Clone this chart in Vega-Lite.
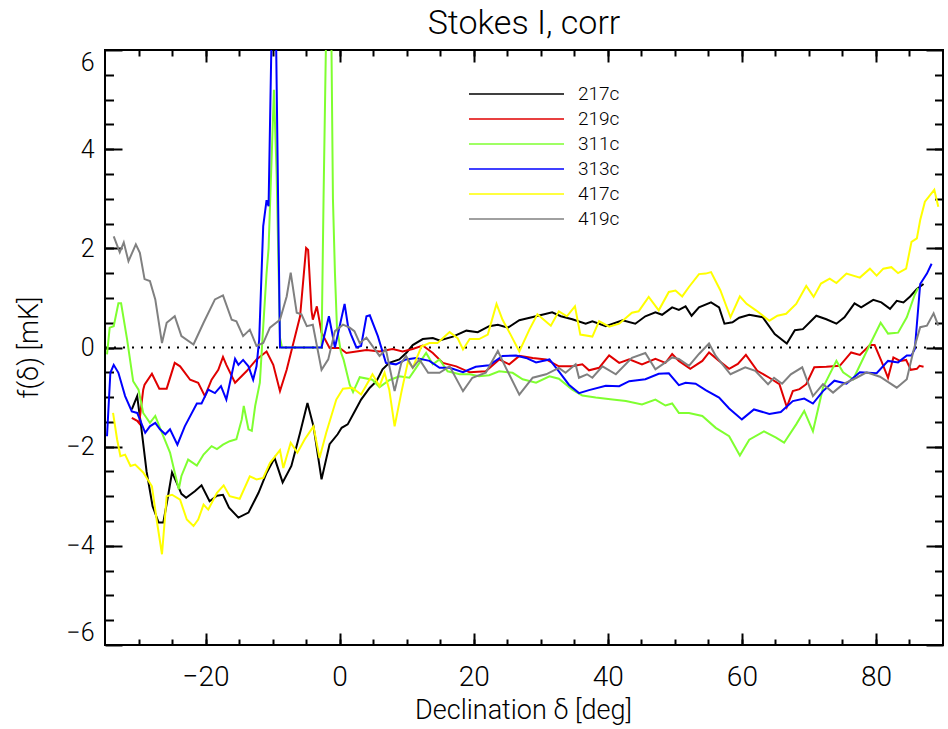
{
  "$schema": "https://vega.github.io/schema/vega-lite/v6.json",
  "width": 838,
  "height": 595,
  "autosize": {"type": "none"},
  "padding": {"left": 105, "top": 50, "right": 5, "bottom": 84},
  "background": "white",
  "title": {"text": "Stokes I, corr", "fontSize": 34, "font": "Roboto", "fontWeight": 300, "color": "black", "offset": -19, "baseline": "alphabetic", "anchor": "middle"},
  "datasets": {
    "curves": [
      {"s":"217c","d":-31.0,"f":-1.25},{"s":"217c","d":-30.2,"f":-0.98},{"s":"217c","d":-29.6,"f":-1.6},{"s":"217c","d":-28.8,"f":-2.5},{"s":"217c","d":-27.9,"f":-3.2},{"s":"217c","d":-27.0,"f":-3.53},{"s":"217c","d":-26.3,"f":-3.53},{"s":"217c","d":-25.6,"f":-3.0},{"s":"217c","d":-25.0,"f":-2.52},{"s":"217c","d":-24.3,"f":-2.73},{"s":"217c","d":-23.6,"f":-2.95},{"s":"217c","d":-22.9,"f":-3.03},{"s":"217c","d":-21.6,"f":-2.9},{"s":"217c","d":-20.6,"f":-2.78},{"s":"217c","d":-19.4,"f":-3.1},{"s":"217c","d":-18.3,"f":-2.99},{"s":"217c","d":-17.4,"f":-2.97},{"s":"217c","d":-16.5,"f":-3.23},{"s":"217c","d":-15.1,"f":-3.43},{"s":"217c","d":-13.6,"f":-3.33},{"s":"217c","d":-12.1,"f":-2.93},{"s":"217c","d":-10.9,"f":-2.53},{"s":"217c","d":-9.7,"f":-2.23},{"s":"217c","d":-8.5,"f":-2.72},{"s":"217c","d":-7.2,"f":-2.39},{"s":"217c","d":-5.9,"f":-1.72},{"s":"217c","d":-4.8,"f":-1.12},{"s":"217c","d":-3.9,"f":-1.59},{"s":"217c","d":-2.7,"f":-2.66},{"s":"217c","d":-1.5,"f":-1.95},{"s":"217c","d":-0.3,"f":-1.75},{"s":"217c","d":0.3,"f":-1.62},{"s":"217c","d":1.2,"f":-1.55},{"s":"217c","d":2.2,"f":-1.3},{"s":"217c","d":3.2,"f":-1.05},{"s":"217c","d":4.5,"f":-0.81},{"s":"217c","d":5.5,"f":-0.68},{"s":"217c","d":6.4,"f":-0.44},{"s":"217c","d":7.4,"f":-0.31},{"s":"217c","d":8.9,"f":-0.24},{"s":"217c","d":10.0,"f":-0.1},{"s":"217c","d":10.9,"f":0.05},{"s":"217c","d":12.4,"f":0.17},{"s":"217c","d":13.9,"f":0.19},{"s":"217c","d":14.9,"f":0.14},{"s":"217c","d":16.9,"f":0.22},{"s":"217c","d":18.9,"f":0.34},{"s":"217c","d":20.6,"f":0.31},{"s":"217c","d":22.3,"f":0.43},{"s":"217c","d":23.6,"f":0.46},{"s":"217c","d":25.1,"f":0.4},{"s":"217c","d":26.8,"f":0.55},{"s":"217c","d":29.3,"f":0.63},{"s":"217c","d":31.7,"f":0.71},{"s":"217c","d":33.0,"f":0.63},{"s":"217c","d":34.7,"f":0.57},{"s":"217c","d":36.7,"f":0.48},{"s":"217c","d":37.7,"f":0.53},{"s":"217c","d":39.7,"f":0.43},{"s":"217c","d":42.2,"f":0.55},{"s":"217c","d":44.1,"f":0.48},{"s":"217c","d":45.6,"f":0.63},{"s":"217c","d":47.1,"f":0.71},{"s":"217c","d":48.1,"f":0.66},{"s":"217c","d":49.6,"f":0.81},{"s":"217c","d":50.6,"f":0.76},{"s":"217c","d":51.6,"f":0.83},{"s":"217c","d":52.5,"f":0.64},{"s":"217c","d":53.6,"f":0.81},{"s":"217c","d":55.4,"f":0.91},{"s":"217c","d":56.6,"f":0.81},{"s":"217c","d":57.4,"f":0.48},{"s":"217c","d":58.6,"f":0.51},{"s":"217c","d":59.6,"f":0.6},{"s":"217c","d":61.1,"f":0.66},{"s":"217c","d":63.1,"f":0.61},{"s":"217c","d":64.9,"f":0.27},{"s":"217c","d":66.7,"f":0.08},{"s":"217c","d":67.9,"f":0.35},{"s":"217c","d":69.1,"f":0.37},{"s":"217c","d":71.1,"f":0.64},{"s":"217c","d":72.6,"f":0.57},{"s":"217c","d":74.1,"f":0.48},{"s":"217c","d":75.3,"f":0.61},{"s":"217c","d":76.8,"f":0.89},{"s":"217c","d":77.8,"f":0.81},{"s":"217c","d":79.6,"f":0.96},{"s":"217c","d":80.8,"f":0.91},{"s":"217c","d":82.1,"f":0.78},{"s":"217c","d":83.1,"f":0.94},{"s":"217c","d":84.1,"f":0.91},{"s":"217c","d":85.1,"f":1.03},{"s":"217c","d":86.1,"f":1.18},{"s":"217c","d":87.1,"f":1.28},
      {"s":"219c","d":-31.0,"f":-1.42},{"s":"219c","d":-30.2,"f":-1.48},{"s":"219c","d":-29.9,"f":-1.53},{"s":"219c","d":-29.3,"f":-0.85},{"s":"219c","d":-29.1,"f":-0.75},{"s":"219c","d":-28.0,"f":-0.53},{"s":"219c","d":-26.9,"f":-0.83},{"s":"219c","d":-25.8,"f":-0.83},{"s":"219c","d":-24.6,"f":-0.31},{"s":"219c","d":-23.8,"f":-0.38},{"s":"219c","d":-22.3,"f":-0.65},{"s":"219c","d":-21.1,"f":-0.71},{"s":"219c","d":-20.1,"f":-0.98},{"s":"219c","d":-19.1,"f":-0.65},{"s":"219c","d":-18.1,"f":-0.45},{"s":"219c","d":-17.4,"f":-0.19},{"s":"219c","d":-16.9,"f":-0.35},{"s":"219c","d":-15.6,"f":-0.71},{"s":"219c","d":-13.9,"f":-0.48},{"s":"219c","d":-12.4,"f":-0.24},{"s":"219c","d":-10.9,"f":-0.08},{"s":"219c","d":-9.9,"f":-0.35},{"s":"219c","d":-8.9,"f":-0.88},{"s":"219c","d":-7.9,"f":-0.45},{"s":"219c","d":-6.9,"f":0.09},{"s":"219c","d":-5.9,"f":0.63},{"s":"219c","d":-5.0,"f":2.01},{"s":"219c","d":-4.7,"f":1.97},{"s":"219c","d":-4.2,"f":0.75},{"s":"219c","d":-4.0,"f":0.56},{"s":"219c","d":-3.4,"f":0.83},{"s":"219c","d":-2.7,"f":0.3},{"s":"219c","d":-1.5,"f":-0.01},{"s":"219c","d":0.0,"f":-0.01},{"s":"219c","d":1.0,"f":-0.11},{"s":"219c","d":2.5,"f":-0.08},{"s":"219c","d":4.0,"f":-0.05},{"s":"219c","d":5.95,"f":-0.08},{"s":"219c","d":7.9,"f":-0.03},{"s":"219c","d":9.4,"f":-0.08},{"s":"219c","d":10.9,"f":-0.03},{"s":"219c","d":12.4,"f":0.04},{"s":"219c","d":13.9,"f":-0.11},{"s":"219c","d":15.4,"f":-0.31},{"s":"219c","d":17.4,"f":-0.38},{"s":"219c","d":19.4,"f":-0.5},{"s":"219c","d":21.8,"f":-0.48},{"s":"219c","d":23.8,"f":-0.24},{"s":"219c","d":25.3,"f":-0.34},{"s":"219c","d":26.8,"f":-0.17},{"s":"219c","d":28.8,"f":-0.21},{"s":"219c","d":30.8,"f":-0.24},{"s":"219c","d":32.7,"f":-0.38},{"s":"219c","d":34.7,"f":-0.38},{"s":"219c","d":36.2,"f":-0.34},{"s":"219c","d":37.2,"f":-0.46},{"s":"219c","d":38.7,"f":-0.41},{"s":"219c","d":40.2,"f":-0.16},{"s":"219c","d":41.7,"f":-0.31},{"s":"219c","d":43.2,"f":-0.24},{"s":"219c","d":45.1,"f":-0.34},{"s":"219c","d":47.1,"f":-0.23},{"s":"219c","d":48.6,"f":-0.31},{"s":"219c","d":49.6,"f":-0.13},{"s":"219c","d":50.6,"f":-0.27},{"s":"219c","d":52.3,"f":-0.43},{"s":"219c","d":54.1,"f":-0.27},{"s":"219c","d":55.1,"f":-0.1},{"s":"219c","d":56.6,"f":-0.27},{"s":"219c","d":58.1,"f":-0.43},{"s":"219c","d":59.4,"f":-0.33},{"s":"219c","d":60.6,"f":-0.15},{"s":"219c","d":62.3,"f":-0.47},{"s":"219c","d":64.1,"f":-0.61},{"s":"219c","d":65.6,"f":-0.74},{"s":"219c","d":66.7,"f":-1.2},{"s":"219c","d":67.6,"f":-0.88},{"s":"219c","d":68.6,"f":-0.84},{"s":"219c","d":69.6,"f":-0.74},{"s":"219c","d":70.8,"f":-0.4},{"s":"219c","d":72.6,"f":-0.39},{"s":"219c","d":74.6,"f":-0.37},{"s":"219c","d":76.3,"f":-0.1},{"s":"219c","d":77.6,"f":-0.15},{"s":"219c","d":79.1,"f":0.05},{"s":"219c","d":79.8,"f":0.05},{"s":"219c","d":80.8,"f":-0.27},{"s":"219c","d":81.8,"f":-0.61},{"s":"219c","d":82.6,"f":-0.2},{"s":"219c","d":83.6,"f":-0.27},{"s":"219c","d":84.5,"f":-0.25},{"s":"219c","d":85.2,"f":-0.45},{"s":"219c","d":86.1,"f":-0.43},{"s":"219c","d":86.5,"f":-0.37},{"s":"219c","d":87.1,"f":-0.39},
      {"s":"311c","d":-34.7,"f":-0.14},{"s":"311c","d":-34.3,"f":0.4},{"s":"311c","d":-33.7,"f":0.43},{"s":"311c","d":-33.0,"f":0.89},{"s":"311c","d":-32.6,"f":0.89},{"s":"311c","d":-31.7,"f":0.16},{"s":"311c","d":-30.8,"f":-0.68},{"s":"311c","d":-30.0,"f":-0.85},{"s":"311c","d":-29.3,"f":-1.32},{"s":"311c","d":-28.3,"f":-1.52},{"s":"311c","d":-27.5,"f":-1.38},{"s":"311c","d":-26.5,"f":-1.72},{"s":"311c","d":-25.3,"f":-2.12},{"s":"311c","d":-24.6,"f":-2.52},{"s":"311c","d":-24.0,"f":-2.86},{"s":"311c","d":-23.6,"f":-2.59},{"s":"311c","d":-22.6,"f":-2.26},{"s":"311c","d":-21.3,"f":-2.38},{"s":"311c","d":-20.3,"f":-2.16},{"s":"311c","d":-19.1,"f":-1.99},{"s":"311c","d":-18.3,"f":-2.05},{"s":"311c","d":-17.4,"f":-1.96},{"s":"311c","d":-16.4,"f":-1.89},{"s":"311c","d":-15.4,"f":-1.85},{"s":"311c","d":-14.6,"f":-1.45},{"s":"311c","d":-14.3,"f":-1.18},{"s":"311c","d":-13.6,"f":-1.65},{"s":"311c","d":-13.1,"f":-1.68},{"s":"311c","d":-12.6,"f":-1.18},{"s":"311c","d":-11.9,"f":-0.71},{"s":"311c","d":-11.5,"f":0.2},{"s":"311c","d":-10.9,"f":1.5},{"s":"311c","d":-10.6,"f":2.0},{"s":"311c","d":-9.8,"f":5.2},{"s":"311c","d":-9.4,"f":3.5},{"s":"311c","d":-8.9,"f":0.2},{"s":"311c","d":-8.6,"f":0.0},{"s":"311c","d":-2.7,"f":0.0},{"s":"311c","d":-2.4,"f":3.0},{"s":"311c","d":-2.0,"f":6.5},{"s":"311c","d":-1.6,"f":9.0},{"s":"311c","d":-1.25,"f":6.5},{"s":"311c","d":-1.0,"f":3.0},{"s":"311c","d":-0.7,"f":1.5},{"s":"311c","d":-0.4,"f":0.4},{"s":"311c","d":0.2,"f":-0.1},{"s":"311c","d":0.6,"f":-0.25},{"s":"311c","d":1.5,"f":-0.75},{"s":"311c","d":2.0,"f":-0.9},{"s":"311c","d":3.0,"f":-0.6},{"s":"311c","d":4.9,"f":-0.65},{"s":"311c","d":5.95,"f":-0.8},{"s":"311c","d":7.4,"f":-0.66},{"s":"311c","d":8.9,"f":-0.58},{"s":"311c","d":10.4,"f":-0.61},{"s":"311c","d":11.4,"f":-0.41},{"s":"311c","d":12.9,"f":-0.11},{"s":"311c","d":13.9,"f":-0.34},{"s":"311c","d":14.9,"f":-0.24},{"s":"311c","d":16.1,"f":-0.48},{"s":"311c","d":17.9,"f":-0.54},{"s":"311c","d":19.4,"f":-0.54},{"s":"311c","d":20.8,"f":-0.58},{"s":"311c","d":22.3,"f":-0.56},{"s":"311c","d":23.8,"f":-0.48},{"s":"311c","d":25.8,"f":-0.51},{"s":"311c","d":27.3,"f":-0.64},{"s":"311c","d":29.3,"f":-0.71},{"s":"311c","d":31.3,"f":-0.58},{"s":"311c","d":32.7,"f":-0.63},{"s":"311c","d":34.7,"f":-0.85},{"s":"311c","d":36.2,"f":-0.97},{"s":"311c","d":38.2,"f":-1.01},{"s":"311c","d":40.7,"f":-1.05},{"s":"311c","d":42.7,"f":-1.08},{"s":"311c","d":45.1,"f":-1.15},{"s":"311c","d":47.1,"f":-1.05},{"s":"311c","d":48.6,"f":-1.17},{"s":"311c","d":49.6,"f":-1.13},{"s":"311c","d":50.6,"f":-1.32},{"s":"311c","d":52.1,"f":-1.32},{"s":"311c","d":54.1,"f":-1.38},{"s":"311c","d":56.1,"f":-1.62},{"s":"311c","d":58.1,"f":-1.79},{"s":"311c","d":59.7,"f":-2.18},{"s":"311c","d":61.1,"f":-1.86},{"s":"311c","d":63.3,"f":-1.69},{"s":"311c","d":65.1,"f":-1.82},{"s":"311c","d":66.3,"f":-1.92},{"s":"311c","d":68.1,"f":-1.55},{"s":"311c","d":69.3,"f":-1.28},{"s":"311c","d":70.6,"f":-1.69},{"s":"311c","d":72.1,"f":-0.81},{"s":"311c","d":74.1,"f":-0.27},{"s":"311c","d":75.1,"f":-0.5},{"s":"311c","d":76.6,"f":-0.64},{"s":"311c","d":79.1,"f":0.06},{"s":"311c","d":80.7,"f":0.5},{"s":"311c","d":81.8,"f":0.28},{"s":"311c","d":83.3,"f":0.3},{"s":"311c","d":84.6,"f":0.61},{"s":"311c","d":85.8,"f":1.07},{"s":"311c","d":86.3,"f":1.2},
      {"s":"313c","d":-34.7,"f":-1.79},{"s":"313c","d":-34.2,"f":-0.51},{"s":"313c","d":-33.7,"f":-0.35},{"s":"313c","d":-33.0,"f":-0.51},{"s":"313c","d":-32.0,"f":-0.98},{"s":"313c","d":-31.0,"f":-1.29},{"s":"313c","d":-30.2,"f":-1.32},{"s":"313c","d":-29.8,"f":-1.45},{"s":"313c","d":-29.0,"f":-1.72},{"s":"313c","d":-28.3,"f":-1.59},{"s":"313c","d":-27.5,"f":-1.52},{"s":"313c","d":-26.8,"f":-1.65},{"s":"313c","d":-26.0,"f":-1.75},{"s":"313c","d":-25.3,"f":-1.65},{"s":"313c","d":-24.2,"f":-1.96},{"s":"313c","d":-23.1,"f":-1.59},{"s":"313c","d":-21.3,"f":-1.13},{"s":"313c","d":-20.6,"f":-1.13},{"s":"313c","d":-19.6,"f":-0.85},{"s":"313c","d":-18.6,"f":-0.92},{"s":"313c","d":-17.7,"f":-0.78},{"s":"313c","d":-16.9,"f":-1.05},{"s":"313c","d":-15.6,"f":-0.23},{"s":"313c","d":-15.1,"f":-0.35},{"s":"313c","d":-14.4,"f":-0.25},{"s":"313c","d":-13.6,"f":-0.38},{"s":"313c","d":-12.9,"f":-0.65},{"s":"313c","d":-12.4,"f":-0.38},{"s":"313c","d":-12.0,"f":0.16},{"s":"313c","d":-11.4,"f":2.45},{"s":"313c","d":-10.9,"f":2.97},{"s":"313c","d":-10.6,"f":2.85},{"s":"313c","d":-10.0,"f":7.5},{"s":"313c","d":-9.6,"f":7.5},{"s":"313c","d":-8.9,"f":0.0},{"s":"313c","d":-2.7,"f":0.0},{"s":"313c","d":-1.6,"f":0.63},{"s":"313c","d":-0.7,"f":0.0},{"s":"313c","d":0.74,"f":0.88},{"s":"313c","d":1.25,"f":0.43},{"s":"313c","d":1.7,"f":0.26},{"s":"313c","d":2.5,"f":0.0},{"s":"313c","d":3.2,"f":0.03},{"s":"313c","d":4.0,"f":0.63},{"s":"313c","d":4.5,"f":0.65},{"s":"313c","d":5.7,"f":0.23},{"s":"313c","d":6.9,"f":-0.31},{"s":"313c","d":8.4,"f":-0.34},{"s":"313c","d":9.9,"f":-0.24},{"s":"313c","d":11.4,"f":-0.21},{"s":"313c","d":13.4,"f":-0.27},{"s":"313c","d":14.9,"f":-0.41},{"s":"313c","d":16.4,"f":-0.41},{"s":"313c","d":18.4,"f":-0.5},{"s":"313c","d":20.3,"f":-0.39},{"s":"313c","d":22.3,"f":-0.36},{"s":"313c","d":24.3,"f":-0.17},{"s":"313c","d":26.3,"f":-0.16},{"s":"313c","d":27.8,"f":-0.21},{"s":"313c","d":29.3,"f":-0.3},{"s":"313c","d":31.3,"f":-0.24},{"s":"313c","d":32.7,"f":-0.48},{"s":"313c","d":34.2,"f":-0.75},{"s":"313c","d":35.7,"f":-0.92},{"s":"313c","d":37.2,"f":-0.86},{"s":"313c","d":39.7,"f":-0.77},{"s":"313c","d":41.7,"f":-0.78},{"s":"313c","d":43.2,"f":-0.68},{"s":"313c","d":45.6,"f":-0.64},{"s":"313c","d":47.6,"f":-0.53},{"s":"313c","d":49.1,"f":-0.52},{"s":"313c","d":50.6,"f":-0.76},{"s":"313c","d":51.6,"f":-0.71},{"s":"313c","d":53.1,"f":-0.73},{"s":"313c","d":54.6,"f":-0.86},{"s":"313c","d":56.6,"f":-1.01},{"s":"313c","d":58.1,"f":-1.23},{"s":"313c","d":60.0,"f":-1.45},{"s":"313c","d":61.8,"f":-1.25},{"s":"313c","d":64.1,"f":-1.34},{"s":"313c","d":65.8,"f":-1.3},{"s":"313c","d":67.6,"f":-1.08},{"s":"313c","d":69.3,"f":-1.03},{"s":"313c","d":70.6,"f":-1.13},{"s":"313c","d":72.1,"f":-0.88},{"s":"313c","d":73.8,"f":-0.67},{"s":"313c","d":75.6,"f":-0.73},{"s":"313c","d":77.6,"f":-0.5},{"s":"313c","d":80.1,"f":-0.52},{"s":"313c","d":81.8,"f":-0.27},{"s":"313c","d":83.3,"f":-0.3},{"s":"313c","d":84.6,"f":-0.16},{"s":"313c","d":85.3,"f":-0.16},{"s":"313c","d":85.8,"f":-0.03},{"s":"313c","d":86.6,"f":1.28},{"s":"313c","d":87.6,"f":1.49},{"s":"313c","d":88.3,"f":1.69},
      {"s":"417c","d":-33.8,"f":-1.32},{"s":"417c","d":-33.2,"f":-1.85},{"s":"417c","d":-32.7,"f":-2.19},{"s":"417c","d":-32.0,"f":-2.16},{"s":"417c","d":-31.2,"f":-2.39},{"s":"417c","d":-30.5,"f":-2.36},{"s":"417c","d":-29.3,"f":-2.52},{"s":"417c","d":-28.0,"f":-2.8},{"s":"417c","d":-27.3,"f":-3.47},{"s":"417c","d":-26.5,"f":-4.17},{"s":"417c","d":-25.8,"f":-3.0},{"s":"417c","d":-25.0,"f":-2.97},{"s":"417c","d":-23.8,"f":-3.07},{"s":"417c","d":-22.8,"f":-3.47},{"s":"417c","d":-21.8,"f":-3.6},{"s":"417c","d":-21.1,"f":-3.47},{"s":"417c","d":-20.3,"f":-3.17},{"s":"417c","d":-19.6,"f":-3.27},{"s":"417c","d":-18.3,"f":-2.93},{"s":"417c","d":-17.3,"f":-2.78},{"s":"417c","d":-16.4,"f":-3.0},{"s":"417c","d":-14.9,"f":-3.05},{"s":"417c","d":-13.4,"f":-2.6},{"s":"417c","d":-12.4,"f":-2.66},{"s":"417c","d":-11.4,"f":-2.63},{"s":"417c","d":-10.4,"f":-2.33},{"s":"417c","d":-8.9,"f":-2.07},{"s":"417c","d":-8.4,"f":-2.43},{"s":"417c","d":-7.3,"f":-1.92},{"s":"417c","d":-6.3,"f":-2.12},{"s":"417c","d":-5.2,"f":-1.85},{"s":"417c","d":-3.9,"f":-1.59},{"s":"417c","d":-3.0,"f":-2.23},{"s":"417c","d":-2.0,"f":-1.72},{"s":"417c","d":-0.5,"f":-1.05},{"s":"417c","d":0.5,"f":-0.83},{"s":"417c","d":1.9,"f":-0.81},{"s":"417c","d":3.2,"f":-0.95},{"s":"417c","d":4.9,"f":-0.54},{"s":"417c","d":5.95,"f":-0.78},{"s":"417c","d":6.7,"f":-0.51},{"s":"417c","d":7.4,"f":-0.85},{"s":"417c","d":8.2,"f":-1.59},{"s":"417c","d":9.2,"f":-0.91},{"s":"417c","d":10.2,"f":-0.28},{"s":"417c","d":10.9,"f":-0.41},{"s":"417c","d":12.2,"f":0.02},{"s":"417c","d":13.4,"f":0.09},{"s":"417c","d":14.6,"f":0.09},{"s":"417c","d":16.4,"f":0.31},{"s":"417c","d":17.6,"f":0.19},{"s":"417c","d":18.4,"f":-0.04},{"s":"417c","d":19.4,"f":0.17},{"s":"417c","d":20.8,"f":0.17},{"s":"417c","d":22.1,"f":0.26},{"s":"417c","d":23.4,"f":0.88},{"s":"417c","d":24.3,"f":0.56},{"s":"417c","d":25.5,"f":0.26},{"s":"417c","d":26.8,"f":-0.08},{"s":"417c","d":28.3,"f":0.36},{"s":"417c","d":29.5,"f":0.67},{"s":"417c","d":31.5,"f":0.44},{"s":"417c","d":32.7,"f":0.73},{"s":"417c","d":33.9,"f":0.63},{"s":"417c","d":35.1,"f":0.83},{"s":"417c","d":35.9,"f":0.26},{"s":"417c","d":37.7,"f":0.22},{"s":"417c","d":38.7,"f":0.53},{"s":"417c","d":40.2,"f":0.42},{"s":"417c","d":41.7,"f":0.48},{"s":"417c","d":43.6,"f":0.7},{"s":"417c","d":44.6,"f":0.73},{"s":"417c","d":46.1,"f":1.02},{"s":"417c","d":47.6,"f":0.75},{"s":"417c","d":49.1,"f":1.12},{"s":"417c","d":50.1,"f":1.15},{"s":"417c","d":51.1,"f":1.03},{"s":"417c","d":52.1,"f":1.22},{"s":"417c","d":53.6,"f":1.48},{"s":"417c","d":54.6,"f":1.49},{"s":"417c","d":55.4,"f":1.52},{"s":"417c","d":56.8,"f":1.15},{"s":"417c","d":58.3,"f":0.61},{"s":"417c","d":59.7,"f":1.03},{"s":"417c","d":60.7,"f":0.88},{"s":"417c","d":62.1,"f":0.75},{"s":"417c","d":64.1,"f":0.54},{"s":"417c","d":65.3,"f":0.64},{"s":"417c","d":66.6,"f":0.68},{"s":"417c","d":68.1,"f":0.88},{"s":"417c","d":69.6,"f":1.24},{"s":"417c","d":70.7,"f":1.02},{"s":"417c","d":71.8,"f":1.29},{"s":"417c","d":73.1,"f":1.39},{"s":"417c","d":74.1,"f":1.3},{"s":"417c","d":75.6,"f":1.49},{"s":"417c","d":77.6,"f":1.41},{"s":"417c","d":79.1,"f":1.59},{"s":"417c","d":80.1,"f":1.45},{"s":"417c","d":81.1,"f":1.59},{"s":"417c","d":82.3,"f":1.62},{"s":"417c","d":83.3,"f":1.5},{"s":"417c","d":84.5,"f":1.59},{"s":"417c","d":85.3,"f":2.13},{"s":"417c","d":86.1,"f":2.2},{"s":"417c","d":86.6,"f":2.57},{"s":"417c","d":87.3,"f":2.94},{"s":"417c","d":88.1,"f":3.08},{"s":"417c","d":88.7,"f":3.18},{"s":"417c","d":89.3,"f":2.84},
      {"s":"419c","d":-33.7,"f":2.24},{"s":"419c","d":-32.8,"f":1.92},{"s":"419c","d":-32.2,"f":2.12},{"s":"419c","d":-31.5,"f":1.74},{"s":"419c","d":-30.4,"f":2.08},{"s":"419c","d":-29.8,"f":1.91},{"s":"419c","d":-29.1,"f":1.38},{"s":"419c","d":-28.3,"f":1.34},{"s":"419c","d":-27.5,"f":0.97},{"s":"419c","d":-26.5,"f":0.09},{"s":"419c","d":-25.8,"f":0.5},{"s":"419c","d":-24.6,"f":0.63},{"s":"419c","d":-23.6,"f":0.23},{"s":"419c","d":-21.8,"f":0.06},{"s":"419c","d":-20.3,"f":0.5},{"s":"419c","d":-18.6,"f":0.97},{"s":"419c","d":-17.4,"f":1.05},{"s":"419c","d":-16.1,"f":0.56},{"s":"419c","d":-15.4,"f":0.53},{"s":"419c","d":-14.4,"f":0.23},{"s":"419c","d":-13.4,"f":0.36},{"s":"419c","d":-12.4,"f":0.03},{"s":"419c","d":-11.4,"f":0.09},{"s":"419c","d":-10.4,"f":0.4},{"s":"419c","d":-8.9,"f":0.56},{"s":"419c","d":-7.9,"f":1.03},{"s":"419c","d":-7.3,"f":1.51},{"s":"419c","d":-6.4,"f":0.7},{"s":"419c","d":-5.7,"f":0.67},{"s":"419c","d":-4.9,"f":0.43},{"s":"419c","d":-4.0,"f":0.46},{"s":"419c","d":-2.7,"f":-0.45},{"s":"419c","d":-1.7,"f":-0.24},{"s":"419c","d":-0.7,"f":0.33},{"s":"419c","d":0.5,"f":0.46},{"s":"419c","d":1.5,"f":0.4},{"s":"419c","d":2.2,"f":0.33},{"s":"419c","d":3.0,"f":0.09},{"s":"419c","d":4.0,"f":0.2},{"s":"419c","d":5.95,"f":-0.17},{"s":"419c","d":6.9,"f":-0.04},{"s":"419c","d":8.2,"f":-0.88},{"s":"419c","d":9.2,"f":-0.31},{"s":"419c","d":9.9,"f":-0.17},{"s":"419c","d":10.9,"f":-0.41},{"s":"419c","d":11.9,"f":-0.24},{"s":"419c","d":13.2,"f":-0.51},{"s":"419c","d":14.9,"f":-0.51},{"s":"419c","d":16.4,"f":-0.38},{"s":"419c","d":18.4,"f":-0.88},{"s":"419c","d":19.8,"f":-0.61},{"s":"419c","d":21.8,"f":-0.51},{"s":"419c","d":23.6,"f":-0.07},{"s":"419c","d":24.8,"f":-0.41},{"s":"419c","d":26.8,"f":-0.95},{"s":"419c","d":28.8,"f":-0.61},{"s":"419c","d":30.8,"f":-0.54},{"s":"419c","d":32.7,"f":-0.41},{"s":"419c","d":33.7,"f":-0.51},{"s":"419c","d":35.2,"f":-0.34},{"s":"419c","d":35.7,"f":-0.61},{"s":"419c","d":36.9,"f":-0.54},{"s":"419c","d":37.7,"f":-0.61},{"s":"419c","d":39.2,"f":-0.38},{"s":"419c","d":41.2,"f":-0.54},{"s":"419c","d":43.6,"f":-0.21},{"s":"419c","d":45.6,"f":-0.11},{"s":"419c","d":47.1,"f":-0.44},{"s":"419c","d":48.6,"f":-0.3},{"s":"419c","d":49.6,"f":-0.2},{"s":"419c","d":50.6,"f":-0.23},{"s":"419c","d":52.1,"f":-0.37},{"s":"419c","d":53.6,"f":-0.13},{"s":"419c","d":55.1,"f":0.08},{"s":"419c","d":56.1,"f":-0.17},{"s":"419c","d":58.3,"f":-0.54},{"s":"419c","d":60.5,"f":-0.4},{"s":"419c","d":62.0,"f":-0.47},{"s":"419c","d":63.9,"f":-0.74},{"s":"419c","d":64.8,"f":-0.61},{"s":"419c","d":66.0,"f":-0.73},{"s":"419c","d":67.3,"f":-0.54},{"s":"419c","d":69.0,"f":-0.4},{"s":"419c","d":70.6,"f":-0.98},{"s":"419c","d":72.1,"f":-0.74},{"s":"419c","d":73.6,"f":-0.91},{"s":"419c","d":75.1,"f":-0.74},{"s":"419c","d":77.1,"f":-0.61},{"s":"419c","d":78.6,"f":-0.5},{"s":"419c","d":80.6,"f":-0.59},{"s":"419c","d":83.1,"f":-0.81},{"s":"419c","d":84.6,"f":-0.64},{"s":"419c","d":85.6,"f":-0.06},{"s":"419c","d":86.6,"f":0.41},{"s":"419c","d":87.6,"f":0.44},{"s":"419c","d":88.6,"f":0.69},{"s":"419c","d":89.3,"f":0.44}
    ]
  },
  "layer": [
    {
      "data": {"values": [{}]},
      "mark": {"type": "rule", "color": "black", "strokeWidth": 2, "strokeDash": [2, 7]},
      "encoding": {
        "x": {"datum": -35, "type": "quantitative", "scale": {"domain": [-35, 90], "nice": false, "zero": false},
              "axis": {"orient": "top", "values": [-20, 0, 20, 40, 60, 80], "tickSize": -12, "labels": false, "title": null}},
        "x2": {"datum": 90},
        "y": {"datum": 0, "type": "quantitative", "scale": {"domain": [-6, 6], "nice": false, "zero": false},
              "axis": {"orient": "right", "values": [-6, -4, -2, 0, 2, 4, 6], "tickSize": -17, "labels": false, "title": null}}
      }
    },
    {
      "data": {"values": [{}]},
      "mark": {"type": "rule", "opacity": 0},
      "encoding": {
        "x": {"datum": -35, "type": "quantitative", "scale": {"domain": [-35, 90], "nice": false, "zero": false},
              "axis": {"orient": "bottom", "values": [-30, -25, -20, -15, -10, -5, 0, 5, 10, 15, 20, 25, 30, 35, 40, 45, 50, 55, 60, 65, 70, 75, 80, 85], "tickSize": -6, "labels": false, "title": null}},
        "x2": {"datum": 90},
        "y": {"datum": 0, "type": "quantitative", "scale": {"domain": [-6, 6], "nice": false, "zero": false},
              "axis": {"orient": "left", "values": [-5.5, -5, -4.5, -4, -3.5, -3, -2.5, -2, -1.5, -1, -0.5, 0, 0.5, 1, 1.5, 2, 2.5, 3, 3.5, 4, 4.5, 5, 5.5], "tickSize": -8.5, "labels": false, "title": null}}
      }
    },
    {
      "data": {"values": [{}]},
      "mark": {"type": "rule", "opacity": 0},
      "encoding": {
        "x": {"datum": -35, "type": "quantitative", "scale": {"domain": [-35, 90], "nice": false, "zero": false},
              "axis": {"orient": "top", "values": [-30, -25, -20, -15, -10, -5, 0, 5, 10, 15, 20, 25, 30, 35, 40, 45, 50, 55, 60, 65, 70, 75, 80, 85], "tickSize": -6, "labels": false, "title": null}},
        "x2": {"datum": 90},
        "y": {"datum": 0, "type": "quantitative", "scale": {"domain": [-6, 6], "nice": false, "zero": false},
              "axis": {"orient": "right", "values": [-5.5, -5, -4.5, -4, -3.5, -3, -2.5, -2, -1.5, -1, -0.5, 0, 0.5, 1, 1.5, 2, 2.5, 3, 3.5, 4, 4.5, 5, 5.5], "tickSize": -8.5, "labels": false, "title": null}}
      }
    },
    {
      "data": {"name": "curves"},
      "mark": {"type": "line", "strokeWidth": 2, "clip": true},
      "encoding": {
        "x": {"field": "d", "type": "quantitative", "scale": {"domain": [-35, 90], "nice": false, "zero": false},
              "axis": {"orient": "bottom", "values": [-20, 0, 20, 40, 60, 80], "tickSize": -12, "labelPadding": 30, "labelFontSize": 28,
                       "title": "Declination δ [deg]", "titleX": 418, "titleY": 73, "titleBaseline": "alphabetic", "titleAlign": "center", "titleAnchor": null}},
        "y": {"field": "f", "type": "quantitative", "scale": {"domain": [-6, 6], "nice": false, "zero": false},
              "axis": {"orient": "left", "values": [-6, -4, -2, 0, 2, 4, 6], "tickSize": -17, "labelPadding": 28, "labelFontSize": 25, "labelFlush": true,
                       "title": "f(δ) [mK]", "titleX": -62, "titleY": 297, "titleAngle": 270, "titleBaseline": "bottom", "titleAlign": "center", "titleAnchor": null}},
        "color": {"field": "s", "type": "nominal",
                  "scale": {"domain": ["217c", "219c", "311c", "313c", "417c", "419c"], "range": ["#000000", "#e00000", "#7fff30", "#0000ff", "#ffff00", "#808080"]},
                  "legend": {"orient": "none", "legendX": 363, "legendY": 31.5, "title": null, "symbolType": "stroke", "symbolSize": 9025, "symbolStrokeWidth": 1.5,
                             "clipHeight": 25, "rowPadding": 0, "padding": 0, "labelOffset": 13, "labelFontSize": 19, "labelFont": "Roboto", "labelFontWeight": 300, "labelColor": "black"}}
      }
    }
  ],
  "resolve": {"axis": {"x": "independent", "y": "independent"}},
  "config": {
    "view": {"stroke": "black", "strokeWidth": 2},
    "axis": {"grid": false, "domain": false, "ticks": true, "tickColor": "black", "tickWidth": 2, "labelColor": "black", "titleColor": "black",
             "labelFont": "Roboto", "titleFont": "Roboto", "labelFontWeight": 300, "titleFontWeight": 300, "titleFontSize": 27}
  }
}
